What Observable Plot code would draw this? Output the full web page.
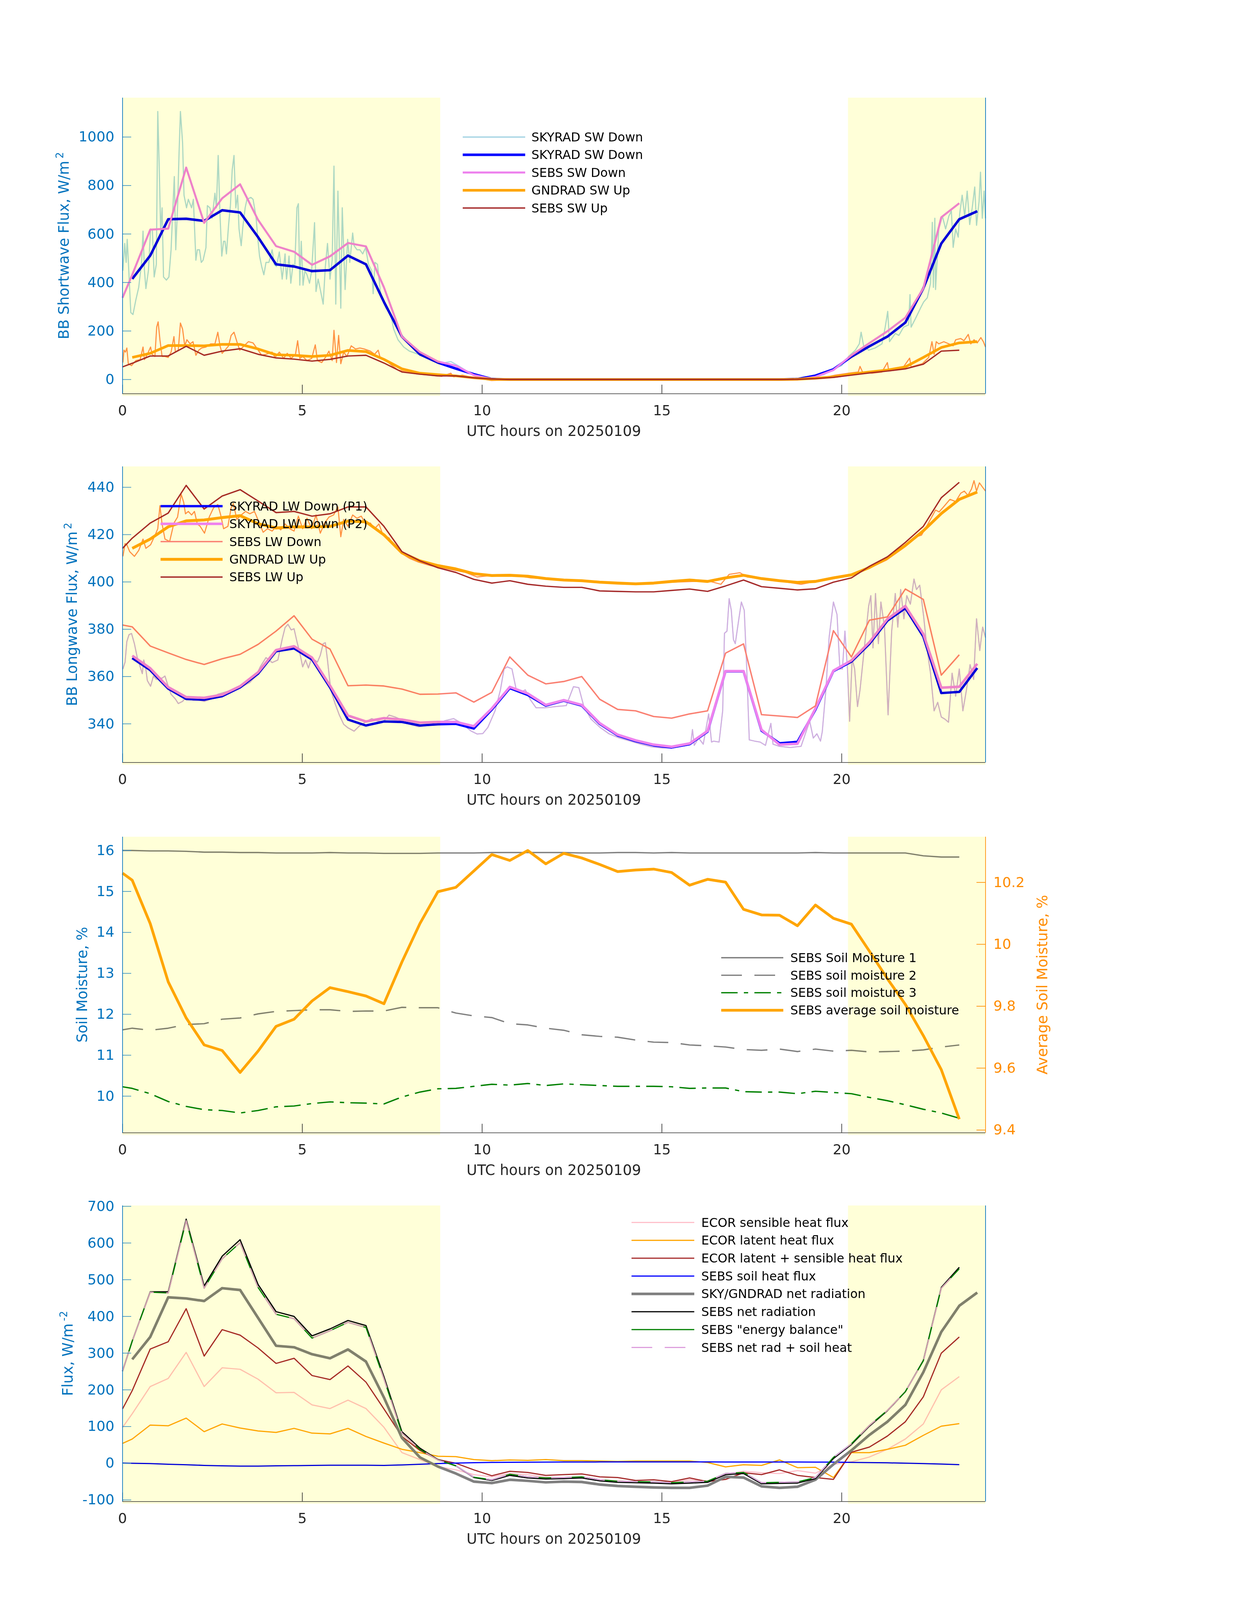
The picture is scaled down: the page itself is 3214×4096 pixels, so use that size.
<!DOCTYPE html>
<html><head><meta charset="utf-8">
<script src="https://cdn.jsdelivr.net/npm/d3@7"></script>
<script src="https://cdn.jsdelivr.net/npm/@observablehq/plot@0.6"></script>
<style>
body{margin:0;background:#fff;}
#root{position:relative;width:3214px;height:4096px;overflow:hidden;background:#fff;font-family:"DejaVu Sans";}
#root svg{position:absolute;left:0;}
</style></head><body><div id="root"></div>
<script>
// ---------------- DATA ----------------
const daySpans = [[0, 8.84], [20.18, 24]];
const xTickVals = [0, 5, 10, 15, 20];

const hoursHalf = [0.27,0.77,1.27,1.77,2.27,2.77,3.27,3.77,4.27,4.77,5.27,5.77,6.27,6.77,7.27,7.77,8.27,8.77,9.27,9.77,10.27,10.77,11.27,11.77,12.27,12.77,13.27,13.77,14.27,14.77,15.27,15.77,16.27,16.77,17.27,17.77,18.27,18.77,19.27,19.77,20.27,20.77,21.27,21.77,22.27,22.77,23.27,23.77];
const hoursSebs = [0,0.27,0.77,1.27,1.77,2.27,2.77,3.27,3.77,4.27,4.77,5.27,5.77,6.27,6.77,7.27,7.77,8.27,8.77,9.27,9.77,10.27,10.77,11.27,11.77,12.27,12.77,13.27,13.77,14.27,14.77,15.27,15.77,16.27,16.77,17.27,17.77,18.27,18.77,19.27,19.77,20.27,20.77,21.27,21.77,22.27,22.77,23.27];

// Panel 1: shortwave
const skyradSwDown1min = [[0.01,449],[0.06,561],[0.10,483],[0.13,578],[0.16,492],[0.23,276],[0.29,268],[0.37,328],[0.45,380],[0.53,483],[0.57,612],[0.61,449],[0.65,375],[0.72,449],[0.78,621],[0.83,617],[0.88,423],[0.94,475],[0.98,1105],[1.02,880],[1.06,613],[1.10,708],[1.14,423],[1.22,410],[1.29,423],[1.35,535],[1.39,674],[1.44,837],[1.48,535],[1.53,708],[1.57,924],[1.61,1105],[1.67,976],[1.71,760],[1.78,708],[1.83,743],[1.92,708],[1.97,743],[2.04,492],[2.08,535],[2.14,535],[2.19,483],[2.24,492],[2.32,544],[2.36,717],[2.43,708],[2.49,665],[2.57,768],[2.61,708],[2.66,924],[2.71,682],[2.76,509],[2.81,570],[2.85,570],[2.89,518],[2.95,639],[3.00,717],[3.05,864],[3.10,924],[3.15,708],[3.20,760],[3.24,621],[3.30,552],[3.34,621],[3.41,708],[3.46,743],[3.57,751],[3.63,743],[3.71,674],[3.77,570],[3.81,509],[3.87,466],[3.93,432],[3.99,483],[4.07,483],[4.16,535],[4.22,475],[4.28,466],[4.36,526],[4.44,414],[4.52,518],[4.56,414],[4.63,509],[4.68,397],[4.74,475],[4.79,466],[4.85,708],[4.89,725],[4.93,389],[4.97,570],[5.02,389],[5.07,449],[5.13,432],[5.20,397],[5.26,449],[5.34,647],[5.38,363],[5.44,414],[5.50,371],[5.58,311],[5.64,466],[5.70,561],[5.77,414],[5.83,492],[5.88,880],[5.93,311],[5.99,777],[6.03,535],[6.07,294],[6.11,708],[6.19,371],[6.26,578],[6.32,483],[6.40,604],[6.44,552],[6.52,535],[6.60,535],[6.68,518],[6.76,544],[6.84,475],[6.93,449],[6.97,354],[7.02,483],[7.09,475],[7.17,363],[7.25,320],[7.33,294],[7.46,268],[7.54,208],[7.66,164],[7.82,134],[7.98,117],[8.23,104],[8.47,88],[8.80,65],[9.13,74],[9.37,54],[9.61,31],[9.86,18],[10.18,2],[10.5,0],[11.5,-1],[12.5,0],[13.5,-1],[14.5,0],[15.5,-1],[16.5,0],[17.5,-1],[18.5,0],[19.0,5],[19.5,20],[19.82,48],[20.0,57],[20.19,95],[20.38,121],[20.49,147],[20.54,195],[20.61,139],[20.75,121],[20.93,130],[21.12,147],[21.21,216],[21.28,281],[21.33,156],[21.49,190],[21.59,182],[21.72,216],[21.86,225],[21.90,350],[21.93,216],[22.05,251],[22.19,294],[22.28,320],[22.38,337],[22.47,397],[22.52,648],[22.55,380],[22.59,665],[22.61,371],[22.70,621],[22.80,674],[22.89,621],[22.98,674],[23.05,695],[23.10,545],[23.17,621],[23.24,587],[23.28,682],[23.35,760],[23.42,674],[23.49,777],[23.56,639],[23.63,708],[23.70,794],[23.75,636],[23.82,734],[23.86,855],[23.91,665],[23.96,777],[24.0,665]];
const gndradSwUp1min = [[0.01,70],[0.04,121],[0.08,113],[0.12,130],[0.16,65],[0.25,57],[0.37,78],[0.49,82],[0.57,134],[0.61,82],[0.69,104],[0.78,134],[0.82,104],[0.90,95],[0.95,216],[0.99,238],[1.04,164],[1.10,95],[1.18,95],[1.27,91],[1.35,113],[1.43,177],[1.47,113],[1.55,121],[1.61,233],[1.67,208],[1.73,139],[1.79,164],[1.88,147],[1.96,156],[2.04,100],[2.12,121],[2.20,130],[2.32,134],[2.45,147],[2.57,147],[2.65,195],[2.71,139],[2.77,108],[2.85,121],[2.95,139],[3.02,182],[3.10,195],[3.18,156],[3.26,121],[3.38,139],[3.50,156],[3.63,151],[3.75,126],[3.87,100],[3.99,104],[4.16,113],[4.24,91],[4.36,113],[4.48,87],[4.58,108],[4.69,87],[4.81,104],[4.87,160],[4.93,87],[5.01,95],[5.13,78],[5.26,87],[5.36,143],[5.42,78],[5.54,70],[5.66,95],[5.74,117],[5.83,78],[5.88,203],[5.95,70],[6.01,182],[6.07,65],[6.15,113],[6.24,95],[6.36,139],[6.48,126],[6.60,130],[6.72,126],[6.89,117],[7.01,104],[7.11,121],[7.17,87],[7.33,78],[7.50,57],[7.66,39],[7.91,31],[8.23,22],[8.56,18],[8.88,13],[9.13,26],[9.21,11],[9.45,18],[9.70,9],[10.02,2],[10.26,-4],[11,0],[12,-2],[13,0],[14,-1],[15,0],[16,-2],[17,0],[18,-1],[19,2],[19.5,8],[19.82,18],[20.19,26],[20.46,31],[20.51,54],[20.58,31],[20.84,26],[21.12,31],[21.27,70],[21.31,35],[21.68,44],[21.89,88],[21.93,52],[22.24,65],[22.42,91],[22.51,156],[22.57,104],[22.63,156],[22.70,147],[22.84,156],[22.98,147],[23.10,139],[23.17,164],[23.31,169],[23.40,160],[23.52,186],[23.59,147],[23.68,164],[23.77,151],[23.87,173],[23.94,156],[24.0,134]];
const skyradSwDown = [415,511,661,663,654,698,689,587,475,466,447,451,511,475,320,177,104,70,45,22,2,0,0,0,0,0,0,0,0,0,0,0,0,0,0,0,0,2,16,42,94,137,177,235,376,561,661,694];
const sebsSwDown = [337,432,618,622,874,646,747,805,658,550,527,473,508,563,549,380,177,113,74,57,18,2,0,0,0,0,0,0,0,0,0,0,0,0,0,0,0,0,0,11,39,100,150,199,255,376,669,727];
const gndradSwUp = [91,108,140,140,139,145,145,126,102,100,95,100,120,115,83,44,26,20,15,7,1,0,0,0,0,0,0,0,0,0,0,0,0,0,0,0,0,1,5,11,22,31,39,52,91,132,151,156];
const sebsSwUp = [52,67,97,97,137,100,117,127,104,89,84,76,83,97,100,68,31,22,15,15,7,2,0,0,0,0,0,0,0,0,0,0,0,0,0,0,0,0,1,4,9,18,27,35,44,63,117,121];

// Panel 2: longwave
const skyradLwDown1min = [[0.01,363.2],[0.07,366.1],[0.12,374.8],[0.18,377.7],[0.25,378.2],[0.33,373.9],[0.41,368.0],[0.49,364.1],[0.55,361.2],[0.59,367.0],[0.64,364.1],[0.69,358.3],[0.78,355.9],[0.86,360.2],[0.94,358.8],[1.02,359.3],[1.10,359.3],[1.18,360.2],[1.27,355.9],[1.35,352.5],[1.47,350.5],[1.55,348.6],[1.67,349.5],[1.79,351.5],[1.96,350.0],[2.12,350.0],[2.28,349.5],[2.45,350.5],[2.65,352.5],[2.85,353.4],[3.10,354.4],[3.34,355.9],[3.54,357.5],[3.71,360.2],[3.83,364.1],[3.99,368.0],[4.16,365.9],[4.32,367.0],[4.44,375.8],[4.52,380.7],[4.60,382.1],[4.69,379.7],[4.77,380.2],[4.85,374.8],[4.93,370.0],[5.01,364.1],[5.09,367.0],[5.17,363.6],[5.26,368.0],[5.34,367.0],[5.42,366.1],[5.50,369.0],[5.58,373.9],[5.64,374.3],[5.70,367.0],[5.79,354.4],[5.91,348.6],[6.03,343.7],[6.15,339.8],[6.27,338.3],[6.44,336.9],[6.60,339.3],[6.76,340.8],[6.93,342.2],[7.09,341.3],[7.25,340.8],[7.41,343.7],[7.58,342.9],[7.74,341.8],[7.99,339.8],[8.23,338.8],[8.47,339.3],[8.72,339.8],[8.96,341.3],[9.21,342.2],[9.37,340.8],[9.54,338.8],[9.70,336.9],[9.86,335.7],[10.02,335.9],[10.16,338.5],[10.36,345.5],[10.51,354.4],[10.61,363.2],[10.70,364.1],[10.83,363.2],[10.95,354.4],[11.10,353.5],[11.20,354.4],[11.35,350.0],[11.50,346.8],[11.75,346.8],[12.04,347.3],[12.34,347.7],[12.44,351.7],[12.54,355.7],[12.69,355.3],[12.83,347.3],[13.03,342.0],[13.28,338.5],[13.53,335.8],[13.82,334.0],[14.12,332.7],[14.41,331.4],[14.71,330.3],[15.01,329.8],[15.31,330.0],[15.60,330.7],[15.80,331.4],[15.85,337.6],[15.90,330.9],[16.02,334.0],[16.15,331.4],[16.30,344.2],[16.38,332.3],[16.44,332.7],[16.59,332.3],[16.69,345.5],[16.74,378.3],[16.81,379.2],[16.87,392.9],[16.93,388.0],[16.99,375.6],[17.04,373.9],[17.14,384.4],[17.21,391.5],[17.29,388.0],[17.36,363.2],[17.43,333.2],[17.58,332.7],[17.73,332.3],[17.88,330.9],[18.03,340.2],[18.09,331.4],[18.27,330.5],[18.57,330.0],[18.87,330.5],[19.01,336.7],[19.11,341.1],[19.21,334.0],[19.31,335.8],[19.41,332.7],[19.46,336.7],[19.56,354.4],[19.65,376.5],[19.77,391.5],[19.87,386.2],[19.95,363.2],[20.02,363.2],[20.09,379.2],[20.16,363.2],[20.22,341.1],[20.29,367.6],[20.36,363.2],[20.44,347.3],[20.51,354.4],[20.63,372.1],[20.75,389.8],[20.81,394.2],[20.87,372.1],[20.94,395.1],[21.02,373.9],[21.09,391.5],[21.19,380.9],[21.29,343.8],[21.39,379.2],[21.49,395.1],[21.56,380.9],[21.64,396.8],[21.73,384.4],[21.81,394.2],[21.91,390.6],[22.01,401.2],[22.08,396.8],[22.17,398.6],[22.28,385.3],[22.37,372.1],[22.47,361.4],[22.57,345.5],[22.67,349.1],[22.77,342.9],[22.87,342.0],[22.97,340.7],[23.07,361.4],[23.17,351.7],[23.27,363.2],[23.37,345.5],[23.47,354.4],[23.57,365.0],[23.67,358.8],[23.75,384.4],[23.84,371.0],[23.92,380.9],[24.0,376.5]];
const gndradLwUp1min = [[0.01,410.8],[0.07,416.2],[0.12,415.7],[0.20,412.8],[0.33,410.8],[0.45,413.3],[0.57,418.1],[0.65,414.2],[0.78,415.7],[0.90,419.6],[0.98,422.5],[1.04,432.2],[1.10,424.5],[1.18,418.1],[1.31,417.1],[1.43,424.9],[1.53,427.4],[1.63,437.1],[1.70,433.7],[1.75,428.8],[1.83,429.8],[1.92,428.3],[2.00,429.8],[2.08,424.5],[2.16,423.5],[2.28,420.6],[2.41,427.4],[2.53,431.3],[2.65,432.7],[2.73,428.3],[2.81,422.5],[2.93,423.5],[3.02,431.3],[3.08,433.2],[3.18,426.4],[3.30,428.3],[3.42,429.8],[3.54,428.8],[3.67,429.8],[3.79,425.4],[3.91,421.0],[4.03,422.5],[4.16,421.5],[4.28,423.5],[4.40,422.0],[4.52,424.5],[4.65,422.5],[4.77,421.5],[4.89,427.8],[5.01,422.5],[5.13,426.9],[5.26,422.5],[5.38,428.3],[5.50,420.6],[5.62,424.9],[5.74,427.4],[5.87,428.3],[5.99,431.7],[6.07,419.1],[6.15,426.4],[6.27,423.5],[6.40,428.3],[6.52,426.9],[6.64,427.8],[6.76,424.5],[6.89,424.9],[7.01,422.5],[7.13,424.5],[7.25,419.6],[7.41,418.6],[7.58,414.7],[7.74,412.3],[7.99,409.9],[8.23,408.4],[8.56,406.9],[8.88,406.0],[9.21,405.0],[9.54,404.0],[9.86,402.1],[10.19,402.6],[10.56,402.6],[10.84,403.0],[11.35,401.7],[12.34,400.8],[13.33,399.9],[14.31,399.3],[15.31,399.9],[16.30,400.4],[16.64,399.0],[16.87,403.2],[17.17,403.9],[17.37,402.1],[18.27,400.4],[18.87,399.0],[19.76,401.7],[20.25,402.6],[20.75,405.7],[21.24,409.2],[21.73,414.5],[22.03,418.9],[22.22,419.8],[22.42,425.1],[22.61,430.4],[22.71,429.6],[22.86,432.2],[23.01,434.9],[23.17,434.0],[23.31,437.5],[23.41,438.4],[23.51,436.6],[23.61,439.3],[23.68,442.8],[23.75,438.4],[23.83,441.9],[23.91,440.2],[24.0,438.4]];
const skyradLwDownP1 = [367.8,362.7,354.9,350.5,350.2,351.7,355.4,361.2,370.7,371.9,367.2,355.4,341.8,339.3,341.0,340.8,339.3,339.8,340.0,338.0,346.0,355.1,352.2,347.7,349.8,347.7,340.0,335.1,332.7,330.9,330.0,331.4,336.7,362.2,362.2,337.1,331.8,332.4,346.0,362.3,366.3,373.8,383.6,388.9,376.9,353.0,353.5,363.6];
const skyradLwDownP2 = [368.8,363.5,355.5,351.3,351.0,352.3,355.9,361.8,371.2,372.8,368.0,356.2,343.5,341.0,342.4,341.8,340.5,340.8,340.8,339.0,346.5,355.6,352.8,348.0,350.0,348.0,340.3,335.4,333.0,331.2,330.3,331.7,337.0,362.3,362.3,337.5,331.2,331.6,346.5,362.5,366.8,374.5,384.3,389.8,378.0,355.3,355.7,365.4];
const sebsLwDown = [381.8,381.0,372.9,370.0,367.2,365.1,367.5,369.4,373.6,379.2,385.7,375.8,371.6,356.1,356.4,356.0,354.7,352.5,352.6,353.1,349.2,353.3,368.3,360.6,356.9,357.9,360.0,350.4,346.1,345.5,343.1,342.4,344.2,345.5,369.9,373.8,343.9,343.3,342.7,347.6,379.4,368.3,383.8,385.2,397.0,392.6,360.6,369.2];
const gndradLwUp = [414.2,418.1,423.3,425.8,426.2,427.2,428.0,424.6,422.8,423.3,423.2,423.5,425.7,425.4,419.9,412.3,408.9,406.9,405.5,403.5,402.7,402.8,402.4,401.4,400.8,400.5,399.9,399.5,399.2,399.5,400.2,400.8,400.2,401.7,402.8,401.4,400.5,399.8,400.2,401.7,403.0,406.1,410.1,415.4,421.6,428.9,434.9,438.0];
const sebsLwUp = [414.2,418.5,424.9,429.1,440.8,430.8,436.3,439.0,434.2,429.3,429.8,427.8,428.8,431.7,431.7,423.5,412.8,408.9,406.0,404.0,401.1,399.5,400.5,399.0,398.2,397.7,397.7,396.2,396.0,395.8,395.8,396.4,397.0,396.0,398.3,400.8,398.0,397.3,396.6,397.1,399.9,401.7,406.6,410.6,416.7,423.5,435.6,442.1];

// Panel 3: soil moisture
const soilMoisture1 = [16.0,16.0,15.99,15.99,15.98,15.96,15.96,15.95,15.95,15.94,15.94,15.94,15.95,15.94,15.94,15.93,15.93,15.93,15.94,15.94,15.94,15.95,15.95,15.95,15.95,15.95,15.94,15.94,15.95,15.95,15.94,15.95,15.94,15.94,15.94,15.94,15.94,15.94,15.94,15.95,15.94,15.94,15.94,15.94,15.94,15.87,15.84,15.84];
const soilMoisture2 = [11.62,11.66,11.61,11.66,11.75,11.77,11.88,11.91,12.01,12.07,12.09,12.11,12.11,12.07,12.08,12.08,12.17,12.16,12.16,12.03,11.96,11.92,11.77,11.74,11.66,11.61,11.50,11.46,11.44,11.37,11.32,11.31,11.25,11.23,11.20,11.14,11.12,11.15,11.09,11.15,11.10,11.12,11.08,11.09,11.10,11.13,11.20,11.25];
const soilMoisture3 = [10.23,10.19,10.06,9.87,9.75,9.67,9.65,9.59,9.65,9.74,9.76,9.82,9.86,9.84,9.83,9.81,9.98,10.10,10.18,10.19,10.24,10.29,10.27,10.31,10.26,10.30,10.28,10.26,10.24,10.24,10.24,10.23,10.19,10.20,10.20,10.11,10.10,10.10,10.06,10.12,10.09,10.06,9.97,9.89,9.79,9.68,9.59,9.46];
const soilMoistureAvg = [10.230,10.207,10.067,9.879,9.762,9.675,9.657,9.586,9.655,9.735,9.758,9.817,9.860,9.847,9.833,9.808,9.943,10.067,10.170,10.184,10.237,10.290,10.271,10.303,10.260,10.294,10.279,10.258,10.235,10.240,10.243,10.232,10.191,10.210,10.201,10.113,10.095,10.094,10.060,10.127,10.084,10.065,9.978,9.889,9.806,9.705,9.595,9.435];

// Panel 4: fluxes
const ecorSensible = [97.6,135,209,231,302,209,260,256,229,192,193,159,149,172,149,98,29,10,-9,-18,-31,-37,-28,-31,-38,-40,-38,-45,-48,-50,-52,-52,-45,-48,-31,-22,-26,-28,-20,-27,-3,4,17,38,66,107,200,236];
const ecorLatent = [54,66,104,102,123,86,107,96,88,84,95,82,80,95,73,55,38,29,19,18,10,7,9,8,10,7,7,6,5,6,6,6,6,2,-10,-4,-6,9,-12,-11,-39,29,29,38,49,76,101,108];
const ecorLatentSensible = [148,198,311,331,421,292,364,349,314,272,286,239,228,265,221,148,73,35,10,0,-18,-34,-22,-25,-33,-31,-29,-37,-39,-47,-45,-50,-40,-50,-44,-26,-31,-18,-33,-39,-44,30,44,74,113,181,300,344];
const sebsSoilHeat = [0.4,0,-1,-2.7,-4,-5.9,-7,-7.8,-7.8,-7.1,-6.5,-5.9,-5.5,-5.3,-5.5,-5.9,-4.5,-2.7,-1,0.4,1.5,2.3,2.6,2.9,3.2,3.3,3.4,3.5,3.5,3.5,3.5,3.5,3.5,3.5,3.4,3.4,3.4,3.4,3.3,3.2,3.0,2.3,1.7,1.1,0.2,-0.8,-2.2,-3.9];
const skyGndNet = [283,344,452,449,442,477,472,396,320,316,297,286,310,277,179,69,16,-9,-28,-50,-54,-45,-48,-52,-50,-51,-58,-62,-64,-66,-67,-67,-61,-37,-39,-63,-67,-64,-45,-3,35,77,113,159,248,358,429,465];
const sebsNetRad = [251,333,467,467,665,483,564,609,487,413,400,347,366,389,375,236,86,41,10,-7,-39,-47,-33,-40,-43,-42,-40,-48,-52,-53,-54,-56,-54,-52,-31,-28,-56,-55,-54,-42,13,51,101,143,195,280,479,534];
const sebsEnergyBalance = [251,333,466,464,661,477,557,601,479,406,394,341,361,384,370,230,82,38,9,-7,-38,-45,-30,-37,-40,-39,-37,-45,-49,-50,-51,-53,-51,-49,-28,-25,-53,-52,-51,-39,16,53,103,144,195,279,477,530];
const sebsNetPlusSoil = [251,333,466,464,661,477,557,601,479,406,394,341,361,384,370,230,82,38,9,-7,-38,-45,-30,-37,-40,-39,-37,-45,-49,-50,-51,-53,-51,-49,-28,-25,-53,-52,-51,-39,16,53,103,144,195,279,477,530];

// ---------------- LAYOUT ----------------
const W = 3214;
const X0PX = 313.3, X24PX = 2523.4;
const ML = X0PX, MR = W - X24PX;
const MT = 40, MB = 140, FH = 757.5;
const FONT = "DejaVu Sans";
const AX_BLUE = "#0072BD";
const TICK_BLUE = "#3d93c4";
const DARK = "#262626";
const root = document.getElementById("root");

const zip = (ts, vs) => ts.map((t, i) => ({t, v: vs[i]})).filter(d => d.v != null);
const pairs = arr => arr.map(([t, v]) => ({t, v}));
const fmt = d => String(d);

function line(data, stroke, width, extra = {}) {
  return Plot.line(data, {x: "t", y: "v", stroke, strokeWidth: width, strokeLinejoin: "round", strokeLinecap: "butt", ...extra});
}

function makePanel(cfg) {
  const [y0, y1] = cfg.yDomain;
  const range = y1 - y0;
  const tickLenX = 22.7 / ((X24PX - X0PX) / 24);
  const tickLenY = range * 22.7 / FH;
  const over = range * 6 / FH;
  const rightColor = cfg.rightColor || AX_BLUE;
  const marks = [
    ...cfg.lines,
    Plot.rect(daySpans, {x1: d => d[0], x2: d => d[1], y1: y0 - over, y2: y1, fill: "#ffffd8", mixBlendMode: "multiply"}),
    Plot.ruleY(cfg.yTicks, {x1: 0, x2: tickLenX, stroke: TICK_BLUE, strokeWidth: 1.7}),
    Plot.ruleX(xTickVals, {y1: y0, y2: y0 + tickLenY, stroke: "#333", strokeWidth: 1.7}),
    Plot.ruleX([0], {stroke: AX_BLUE, strokeWidth: 1.7}),
    Plot.ruleX([24], {stroke: rightColor, strokeWidth: 1.7}),
    Plot.ruleY([y0], {stroke: "#333", strokeWidth: 1.7}),
    Plot.axisY(cfg.yTicks, {tickSize: 0, tickPadding: 21, fontSize: 36, fill: AX_BLUE, label: null, tickFormat: fmt}),
    Plot.axisX(xTickVals, {tickSize: 0, tickPadding: 29, fontSize: 36, fill: DARK, label: null, tickFormat: fmt}),
    ...(cfg.extraMarks || [])
  ];
  const plot = Plot.plot({
    width: W, height: MT + FH + MB,
    marginLeft: ML, marginRight: MR, marginTop: MT, marginBottom: MB,
    x: {domain: [0, 24]},
    y: {domain: cfg.yDomain},
    style: {fontFamily: FONT, background: "white", overflow: "visible"},
    marks
  });
  root.appendChild(plot);
  const svgTop = cfg.frameTop - MT;
  const svg = d3.select(plot);
  svg.style("top", svgTop + "px");

  // y label
  const yl = svg.append("text")
    .attr("transform", `translate(${cfg.yLabelX},${MT + FH / 2}) rotate(-90)`)
    .attr("text-anchor", "middle").attr("dy", "0.35em")
    .attr("fill", AX_BLUE).attr("font-size", 37).attr("font-family", FONT);
  yl.append("tspan").text(cfg.yLabel);
  if (cfg.yLabelSup) yl.append("tspan").attr("dx", 6).attr("dy", -14).attr("font-size", 26).text(cfg.yLabelSup);

  // x label
  svg.append("text")
    .attr("x", (X0PX + X24PX) / 2).attr("y", MT + FH + 96)
    .attr("dy", "0.35em").attr("text-anchor", "middle")
    .attr("fill", DARK).attr("font-size", 37).attr("font-family", FONT)
    .text("UTC hours on 20250109");

  if (cfg.rightLabel) {
    svg.append("text")
      .attr("transform", `translate(${cfg.rightLabelX},${MT + FH / 2}) rotate(-90)`)
      .attr("text-anchor", "middle").attr("dy", "0.35em")
      .attr("fill", cfg.rightColor).attr("font-size", 37).attr("font-family", FONT)
      .text(cfg.rightLabel);
  }

  // legend
  const L = cfg.legend;
  L.items.forEach((it, i) => {
    const y = L.y0 + i * L.dy - svgTop;
    svg.append("line")
      .attr("x1", L.x0).attr("x2", L.x1).attr("y1", y).attr("y2", y)
      .attr("stroke", it.stroke).attr("stroke-width", it.width)
      .attr("stroke-dasharray", it.dash || null).attr("stroke-linecap", "butt");
    svg.append("text")
      .attr("x", L.tx).attr("y", y).attr("dy", "0.35em")
      .attr("text-anchor", "start")
      .attr("fill", "#000").attr("font-size", 31.5).attr("font-family", FONT)
      .text(it.label);
  });
}

// ---------------- PANEL 1 ----------------
makePanel({
  frameTop: 250.2,
  yDomain: [-58.7, 1161.5],
  yTicks: [0, 200, 400, 600, 800, 1000],
  yLabel: "BB Shortwave Flux, W/m", yLabelSup: "2", yLabelX: 163.5,
  lines: [
    line(pairs(skyradSwDown1min), "lightblue", 3),
    line(pairs(gndradSwUp1min), "#ff914c", 2.8),
    line(zip(hoursHalf, skyradSwDown), "blue", 6.4),
    line(zip(hoursSebs, sebsSwDown), "violet", 5.2),
    line(zip(hoursHalf, gndradSwUp), "orange", 6.7),
    line(zip(hoursSebs, sebsSwUp), "brown", 3.4)
  ],
  legend: {x0: 1185, x1: 1345, tx: 1361, y0: 351.1, dy: 45.4, items: [
    {label: "SKYRAD SW Down", stroke: "lightblue", width: 3.9},
    {label: "SKYRAD SW Down", stroke: "blue", width: 6.4},
    {label: "SEBS SW Down", stroke: "violet", width: 5.2},
    {label: "GNDRAD SW Up", stroke: "orange", width: 6.7},
    {label: "SEBS SW Up", stroke: "brown", width: 3.4}
  ]}
});

// ---------------- PANEL 2 ----------------
makePanel({
  frameTop: 1193.6,
  yDomain: [323.66, 448.75],
  yTicks: [340, 360, 380, 400, 420, 440],
  yLabel: "BB Longwave Flux, W/m", yLabelSup: "2", yLabelX: 184.5,
  lines: [
    line(pairs(skyradLwDown1min), "lightblue", 2.8),
    line(pairs(skyradLwDown1min), "plum", 2.8, {strokeOpacity: 0.75}),
    line(pairs(gndradLwUp1min), "#ff914c", 2.8),
    line(zip(hoursHalf, skyradLwDownP1), "blue", 6.1),
    line(zip(hoursHalf, skyradLwDownP2), "violet", 6.5),
    line(zip(hoursSebs, sebsLwDown), "salmon", 3.6),
    line(zip(hoursHalf, gndradLwUp), "orange", 7.3),
    line(zip(hoursSebs, sebsLwUp), "brown", 3.4)
  ],
  legend: {x0: 411.2, x1: 570, tx: 587.2, y0: 1295.3, dy: 45.4, items: [
    {label: "SKYRAD LW Down (P1)", stroke: "blue", width: 6.1},
    {label: "SKYRAD LW Down (P2)", stroke: "violet", width: 6.5},
    {label: "SEBS LW Down", stroke: "salmon", width: 3.6},
    {label: "GNDRAD LW Up", stroke: "orange", width: 7.3},
    {label: "SEBS LW Up", stroke: "brown", width: 3.4}
  ]}
});

// ---------------- PANEL 3 ----------------
const leftDom = [9.105, 16.332];
const rightDom = [9.391, 10.347];
const rightTicks = [9.4, 9.6, 9.8, 10, 10.2];
const toLeft = r => leftDom[0] + (r - rightDom[0]) * (leftDom[1] - leftDom[0]) / (rightDom[1] - rightDom[0]);
const toRight = l => rightDom[0] + (l - leftDom[0]) * (rightDom[1] - rightDom[0]) / (leftDom[1] - leftDom[0]);
const ORANGE_AX = "#ff8c00";
makePanel({
  frameTop: 2142.2,
  yDomain: leftDom,
  yTicks: [10, 11, 12, 13, 14, 15, 16],
  yLabel: "Soil Moisture, %", yLabelX: 210.4,
  rightColor: ORANGE_AX, rightLabel: "Average Soil Moisture, %", rightLabelX: 2669,
  lines: [
    line(zip(hoursSebs, soilMoisture1), "gray", 3.4),
    line(zip(hoursSebs, soilMoisture2), "gray", 3.4, {strokeDasharray: "53,32"}),
    line(zip(hoursSebs, soilMoisture3), "green", 3.4, {strokeDasharray: "42,16,11,16"}),
    line(zip(hoursSebs, soilMoistureAvg).map(d => ({t: d.t, v: toLeft(d.v)})), "orange", 7)
  ],
  extraMarks: [
    Plot.ruleY(rightTicks.map(toLeft), {x1: 24 - 22.7 / ((X24PX - X0PX) / 24), x2: 24, stroke: ORANGE_AX, strokeWidth: 1.7}),
    Plot.axisY(rightTicks.map(toLeft), {anchor: "right", tickSize: 0, tickPadding: 20, fontSize: 36, fill: ORANGE_AX, label: null,
      tickFormat: d => String(Math.round(toRight(d) * 10) / 10)})
  ],
  legend: {x0: 1847, x1: 2006, tx: 2024, y0: 2452, dy: 44.8, items: [
    {label: "SEBS Soil Moisture 1", stroke: "gray", width: 3.4},
    {label: "SEBS soil moisture 2", stroke: "gray", width: 3.4, dash: "53,32"},
    {label: "SEBS soil moisture 3", stroke: "green", width: 3.4, dash: "42,16,11,16"},
    {label: "SEBS average soil moisture", stroke: "orange", width: 7}
  ]}
});

// ---------------- PANEL 4 ----------------
makePanel({
  frameTop: 3086.2,
  yDomain: [-104.4, 701.8],
  yTicks: [-100, 0, 100, 200, 300, 400, 500, 600, 700],
  yLabel: "Flux, W/m", yLabelSup: "-2", yLabelX: 172.6,
  lines: [
    line(zip(hoursSebs, ecorSensible), "pink", 3),
    line(zip(hoursSebs, ecorLatent), "orange", 3),
    line(zip(hoursSebs, ecorLatentSensible), "brown", 3),
    line(zip(hoursSebs, sebsSoilHeat), "blue", 3),
    line(zip(hoursHalf, skyGndNet), "gray", 6.7),
    line(zip(hoursSebs, sebsNetRad), "black", 3),
    line(zip(hoursSebs, sebsEnergyBalance), "green", 3),
    line(zip(hoursSebs, sebsNetPlusSoil), "plum", 3, {strokeDasharray: "53,32"})
  ],
  legend: {x0: 1617.3, x1: 1778, tx: 1796, y0: 3129.8, dy: 45.7, items: [
    {label: "ECOR sensible heat flux", stroke: "pink", width: 3},
    {label: "ECOR latent heat flux", stroke: "orange", width: 3},
    {label: "ECOR latent + sensible heat flux", stroke: "brown", width: 3},
    {label: "SEBS soil heat flux", stroke: "blue", width: 3},
    {label: "SKY/GNDRAD net radiation", stroke: "gray", width: 6.7},
    {label: "SEBS net radiation", stroke: "black", width: 3},
    {label: "SEBS \"energy balance\"", stroke: "green", width: 3},
    {label: "SEBS net rad + soil heat", stroke: "plum", width: 3, dash: "53,32"}
  ]}
});
</script></body></html>
